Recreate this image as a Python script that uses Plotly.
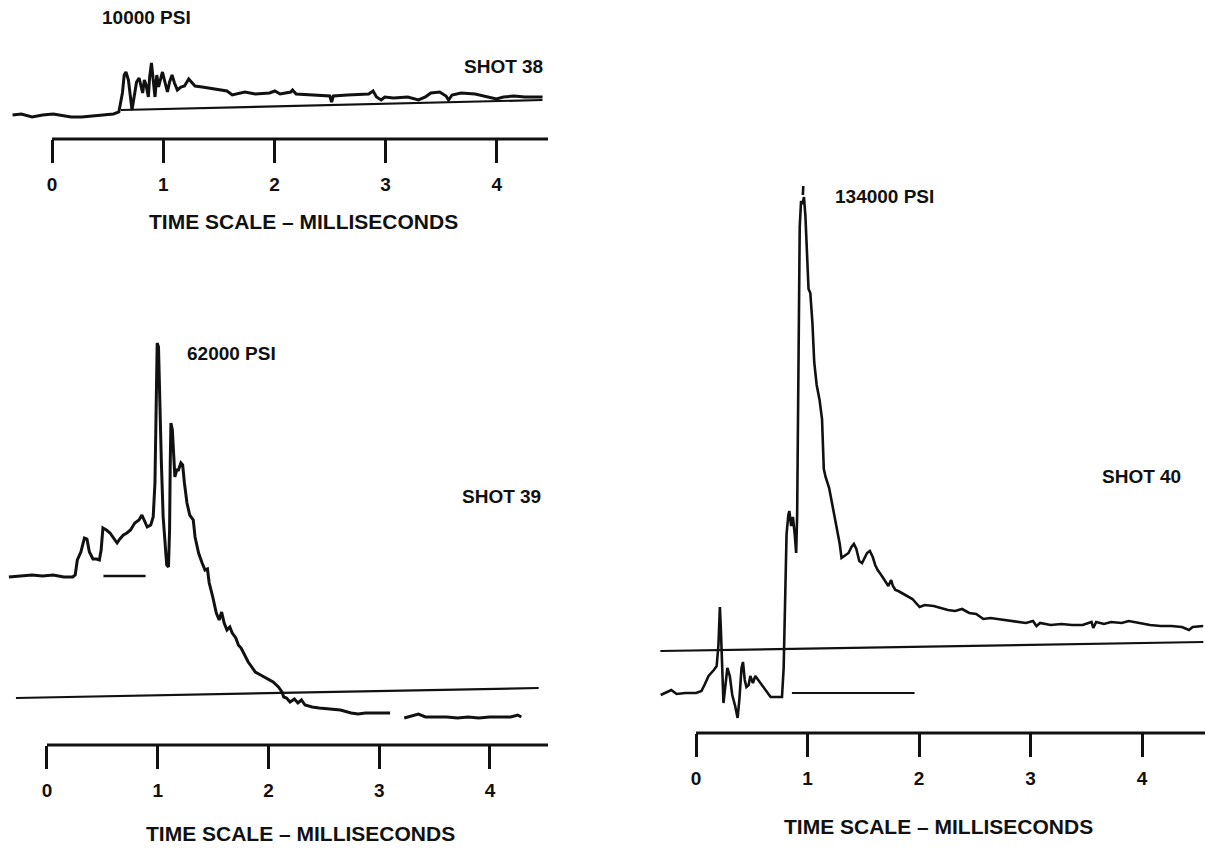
import plotly.graph_objects as go

# ---------------- data (time in ms, trace deflection in arbitrary units) -------------
ticks_ms = [0, 1, 2, 3, 4]
tick_labels = ["0", "1", "2", "3", "4"]

# SHOT 38 (10000 PSI)
shot38_t = [-0.355, -0.276, -0.18, -0.085, 0.011, 0.107, 0.171, 0.266, 0.362, 0.457, 0.553, 0.601,
            0.633, 0.649, 0.665, 0.687, 0.706, 0.719, 0.738, 0.760, 0.783, 0.802, 0.815, 0.830,
            0.846, 0.866, 0.878, 0.894, 0.910, 0.926, 0.942, 0.958, 0.974, 0.993, 1.015, 1.038,
            1.057, 1.079, 1.101, 1.127, 1.159, 1.191, 1.229, 1.254, 1.286, 1.350, 1.446, 1.509,
            1.573, 1.621, 1.653, 1.733, 1.828, 1.956, 2.004, 2.051, 2.147, 2.163, 2.195, 2.306,
            2.434, 2.498, 2.514, 2.530, 2.657, 2.848, 2.887, 2.918, 2.960, 2.992, 3.071, 3.199,
            3.295, 3.358, 3.406, 3.486, 3.543, 3.566, 3.597, 3.677, 3.805, 3.932, 3.996, 4.060,
            4.155, 4.251, 4.315, 4.411]
shot38_v = [0, 1, -2, 0, 1, -1, -2, -2, -1, 0, 1, 3,
            22, 40, 43, 35, 15, 5, 18, 33, 37, 28, 22, 35,
            30, 18, 38, 52, 32, 18, 40, 28, 35, 43, 33, 23,
            33, 40, 32, 25, 28, 29, 36, 33, 29, 28, 26, 25,
            24, 20, 21, 23, 21, 22, 24, 21, 23, 25, 21, 20,
            19, 19, 13, 19, 20, 21, 24, 18, 15, 18, 17, 18,
            15, 18, 22, 23, 19, 15, 20, 22, 21, 18, 16, 18,
            19, 18, 18, 18]
shot38_ref_t = [0.62, 4.41]
shot38_ref_v = [5, 15]

# SHOT 39 (62000 PSI)
shot39_t = [-0.344, -0.232, -0.136, -0.040, 0.056, 0.152, 0.232, 0.255, 0.274, 0.306, 0.338, 0.361,
            0.383, 0.415, 0.447, 0.473, 0.489, 0.505, 0.537, 0.569, 0.601, 0.633, 0.658, 0.690,
            0.722, 0.754, 0.793, 0.831, 0.857, 0.882, 0.905, 0.937, 0.959, 0.975, 0.985, 0.995,
            1.007, 1.017, 1.033, 1.049, 1.065, 1.081, 1.097, 1.107, 1.113, 1.119, 1.132, 1.145,
            1.155, 1.171, 1.187, 1.209, 1.225, 1.241, 1.264, 1.289, 1.321, 1.337, 1.369, 1.401,
            1.427, 1.449, 1.465, 1.497, 1.529, 1.555, 1.577, 1.600, 1.625, 1.651, 1.673, 1.705,
            1.728, 1.753, 1.785, 1.817, 1.849, 1.881, 1.929, 1.978, 2.042, 2.090, 2.122, 2.138,
            2.163, 2.195, 2.234, 2.266, 2.298, 2.330, 2.394, 2.458, 2.554, 2.650, 2.746, 2.810,
            2.874, 2.970, 3.098, None,
            3.226, 3.290, 3.354, 3.418, 3.514, 3.610, 3.707, 3.803, 3.899, 3.995, 4.091, 4.187,
            4.251, 4.283]
shot39_v = [0, 1, 2, 1, 2, 0, 0, 2, 17, 25, 39, 38,
            25, 18, 18, 17, 27, 49, 47, 44, 39, 34, 38, 42,
            44, 47, 54, 57, 62, 55, 50, 52, 60, 94, 180, 234,
            230, 180, 114, 60, 30, 12, 10, 47, 114, 154, 147, 124,
            100, 107, 107, 114, 112, 94, 74, 62, 57, 40, 24, 14,
            7, 8, -6, -20, -36, -43, -35, -46, -53, -50, -56, -61,
            -68, -71, -78, -85, -90, -95, -98, -101, -105, -110, -115, -120,
            -121, -125, -122, -126, -123, -128, -130, -131, -132, -133, -136, -137,
            -136, -136, -136, None,
            -141, -139, -137, -140, -140, -140, -141, -140, -141, -140, -140, -140,
            -138, -140]
shot39_ref_t = [-0.28, 4.44]
shot39_ref_v = [-121, -111]
shot39_short_t = [0.51, 0.89]
shot39_short_v = [1, 1]

# SHOT 40 (134000 PSI)
shot40_t = [-0.317, -0.254, -0.222, -0.174, -0.095, 0.001, 0.049, 0.080, 0.112, 0.160, 0.185, 0.201,
            0.214, 0.223, 0.233, 0.246, 0.262, 0.281, 0.303, 0.325, 0.351, 0.373, 0.389, 0.408,
            0.421, 0.437, 0.452, 0.472, 0.487, 0.510, 0.532, 0.557, 0.589, 0.621, 0.669, 0.732,
            0.771, 0.786, 0.796, 0.812, 0.828, 0.837, 0.853, 0.869, 0.885, 0.898, 0.907, 0.914,
            0.920, 0.930, 0.942, 0.955, 0.968, 0.981, 0.993, 1.009, 1.025, 1.044, 1.060, 1.082,
            1.108, 1.130, 1.146, 1.162, 1.194, 1.225, 1.257, 1.289, 1.305, 1.337, 1.368, 1.394,
            1.416, 1.438, 1.464, 1.489, 1.512, 1.534, 1.559, 1.585, 1.607, 1.629, 1.655, 1.680,
            1.702, 1.725, 1.750, 1.766, 1.788, 1.814, 1.877, 1.941, 2.005, 2.052, 2.132, 2.195,
            2.259, 2.323, 2.386, 2.450, 2.513, 2.577, 2.641, 2.704, 2.768, 2.863, 2.959, 3.022,
            3.054, 3.086, 3.181, 3.277, 3.372, 3.468, 3.547, 3.563, 3.589, 3.659, 3.722, 3.818,
            3.881, 3.977, 4.072, 4.168, 4.263, 4.358, 4.422, 4.454, 4.549]
shot40_v = [-2, 1, 3, -1, 0, 0, 2, 9, 17, 23, 27, 48,
            86, 63, 25, -10, 6, 25, 17, -2, -13, -25, -6, 25,
            31, 13, 6, 8, 17, 10, 17, 13, 8, 3, -4, -4,
            -4, 25, 82, 159, 178, 182, 167, 176, 159, 140, 178, 293,
            397, 466, 492, 489, 496, 477, 446, 404, 400, 370, 331, 308,
            293, 274, 224, 216, 205, 186, 167, 149, 135, 138, 140, 146,
            149, 144, 132, 130, 136, 140, 142, 136, 128, 123, 119, 115,
            111, 107, 113, 107, 103, 102, 98, 94, 86, 88, 87, 85,
            83, 82, 84, 80, 79, 74, 75, 74, 73, 71, 70, 72,
            67, 70, 68, 69, 68, 68, 71, 65, 71, 69, 71, 70,
            72, 70, 68, 67, 67, 66, 63, 66, 67]
shot40_spot_t = [0.958, 0.962]
shot40_spot_v = [498, 507]
shot40_ref_t = [-0.32, 4.55]
shot40_ref_v = [42, 51]
shot40_short_t = [0.86, 1.96]
shot40_short_v = [0, 0]

# ---------------- figure -------------
W, H = 1210, 855
FONT = "Liberation Sans, Arial, Helvetica, sans-serif"
INK = "#111111"

fig = go.Figure()

def line(x, y, xa, ya, width=2.6):
    fig.add_trace(go.Scatter(x=x, y=y, xaxis=xa, yaxis=ya, mode="lines",
                             line=dict(color=INK, width=width), connectgaps=False,
                             showlegend=False, hoverinfo="skip"))

line(shot38_t, shot38_v, "x", "y", 3.0)
line(shot38_ref_t, shot38_ref_v, "x", "y", 2.2)
line(shot39_t, shot39_v, "x2", "y2", 3.0)
line(shot39_ref_t, shot39_ref_v, "x2", "y2", 2.2)
line(shot39_short_t, shot39_short_v, "x2", "y2", 2.4)
line(shot40_t, shot40_v, "x3", "y3", 2.6)
line(shot40_spot_t, shot40_spot_v, "x3", "y3", 2.6)
line(shot40_ref_t, shot40_ref_v, "x3", "y3", 2.2)
line(shot40_short_t, shot40_short_v, "x3", "y3", 2.2)

def xaxis_cfg(domain, rng, anchor):
    return dict(domain=domain, range=rng, anchor=anchor, showgrid=False, zeroline=False,
                showline=False, ticks="outside", ticklen=23, tickwidth=3, tickcolor=INK,
                tickvals=ticks_ms, ticktext=tick_labels, ticklabelstandoff=5,
                tickfont=dict(family=FONT, size=19, color=INK, weight="bold"), fixedrange=True)

def yaxis_cfg(domain, rng, anchor):
    return dict(domain=domain, range=rng, anchor=anchor, visible=False, fixedrange=True)

fig.update_layout(
    width=W, height=H, autosize=False,
    margin=dict(l=0, r=0, t=0, b=0),
    paper_bgcolor="white", plot_bgcolor="rgba(0,0,0,0)",
    xaxis=xaxis_cfg([12 / W, 548 / W], [-0.36, 4.46], "y"),
    yaxis=yaxis_cfg([1 - 139 / H, 1 - 50 / H], [-24, 65], "x"),
    xaxis2=xaxis_cfg([8 / W, 548 / W], [-0.352, 4.524], "y2"),
    yaxis2=yaxis_cfg([1 - 745 / H, 1 - 335 / H], [-168, 242], "x2"),
    xaxis3=xaxis_cfg([655 / W, 1205 / W], [-0.368, 4.565], "y3"),
    yaxis3=yaxis_cfg([1 - 733 / H, 1 - 180 / H], [-40, 513], "x3"),
)

# time-scale base lines (from 0 ms to the right end of each scale)
for xr, yr, end in (("x", "y domain", 4.46), ("x2", "y2 domain", 4.524), ("x3", "y3 domain", 4.565)):
    fig.add_shape(type="line", xref=xr, yref=yr, x0=0, x1=end, y0=0, y1=0,
                  line=dict(color=INK, width=3.2))

def text(s, x, y, xanchor="left", size=20):
    fig.add_annotation(text=s, x=x / W, y=1 - y / H, xref="paper", yref="paper",
                       xanchor=xanchor, yanchor="middle", showarrow=False,
                       font=dict(family=FONT, size=size, color=INK, weight="bold"))

text("10000 PSI", 100, 18, size=19)
text("SHOT 38", 545, 66, "right", 19)
text("TIME SCALE – MILLISECONDS", 303, 222, "center", 21)
text("62000 PSI", 185, 354, size=19)
text("SHOT 39", 543, 497, "right", 19)
text("TIME SCALE – MILLISECONDS", 300, 833, "center", 21)
text("134000 PSI", 833, 196, size=19)
text("SHOT 40", 1183, 476, "right", 19)
text("TIME SCALE – MILLISECONDS", 938, 826, "center", 21)

fig.write_html("out.html", config={"displayModeBar": False, "staticPlot": True},
               post_script="document.body.style.margin='0';")
